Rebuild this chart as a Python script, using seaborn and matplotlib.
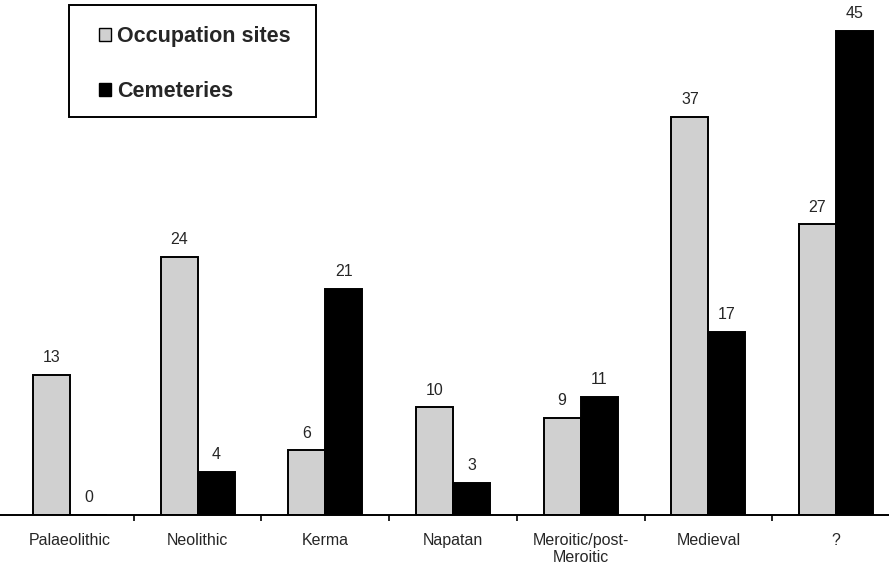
import matplotlib
matplotlib.use("Agg")
import matplotlib.pyplot as plt
import seaborn as sns
import pandas as pd
import numpy as np
from matplotlib.patches import Patch, Rectangle

categories = ["Palaeolithic", "Neolithic", "Kerma", "Napatan",
              "Meroitic/post-\nMeroitic", "Medieval", "?"]
occupation = [13, 24, 6, 10, 9, 37, 27]
cemeteries = [0, 4, 21, 3, 11, 17, 45]
series = ["Occupation sites", "Cemeteries"]
colors = ["#d0d0d0", "#000000"]

df = pd.DataFrame({
    "period": categories * 2,
    "series": [series[0]] * len(categories) + [series[1]] * len(categories),
    "count": occupation + cemeteries,
})

sns.set_style("white")
plt.rcParams["font.family"] = ["Liberation Sans", "DejaVu Sans"]

W, H = 889, 574
fig = plt.figure(figsize=(W / 100, H / 100), dpi=100)
ax = fig.add_axes([0.0, 0.1028, 1.0, 0.8972])

sns.barplot(data=df, x="period", y="count", hue="series", order=categories,
            hue_order=series, palette=colors, width=0.58, ax=ax,
            edgecolor="black", linewidth=1.4, legend=False)

for cont in ax.containers:
    ax.bar_label(cont, padding=7, fontsize=11.5)

ax.set_xlim(-0.547, -0.547 + W / 127.7)
ax.set_ylim(0, 47.86)
ax.set_xlabel("")
ax.set_ylabel("")
ax.set_yticks([])
for s in ["top", "right", "left"]:
    ax.spines[s].set_visible(False)
ax.spines["bottom"].set_linewidth(1.4)
ax.spines["bottom"].set_color("black")

ax.set_xticks(np.arange(len(categories)))
ax.set_xticklabels(categories, fontsize=11.5)
ax.tick_params(axis="x", which="major", length=0, pad=13)
ax.set_xticks(np.arange(len(categories) - 1) + 0.5, minor=True)
ax.tick_params(axis="x", which="minor", length=4, width=1.2, direction="out",
               bottom=True, color="black")

handles = [Patch(facecolor=colors[0], edgecolor="black", linewidth=1.0),
           Patch(facecolor=colors[1], edgecolor="black", linewidth=1.0)]
leg = fig.legend(handles, series, loc="upper left",
                 bbox_to_anchor=(99 / W, 1 - 26 / H), bbox_transform=fig.transFigure,
                 prop={"weight": "bold", "size": 15.5}, frameon=False,
                 handlelength=0.55, handleheight=0.55, handletextpad=0.3,
                 labelspacing=1.6, borderpad=0, borderaxespad=0)

box = Rectangle((69 / W, 1 - 117 / H), (316 - 69) / W, (117 - 5) / H,
                transform=fig.transFigure, facecolor="none", edgecolor="black",
                linewidth=1.4)
fig.patches.append(box)

fig.savefig("out.png", dpi=100)
